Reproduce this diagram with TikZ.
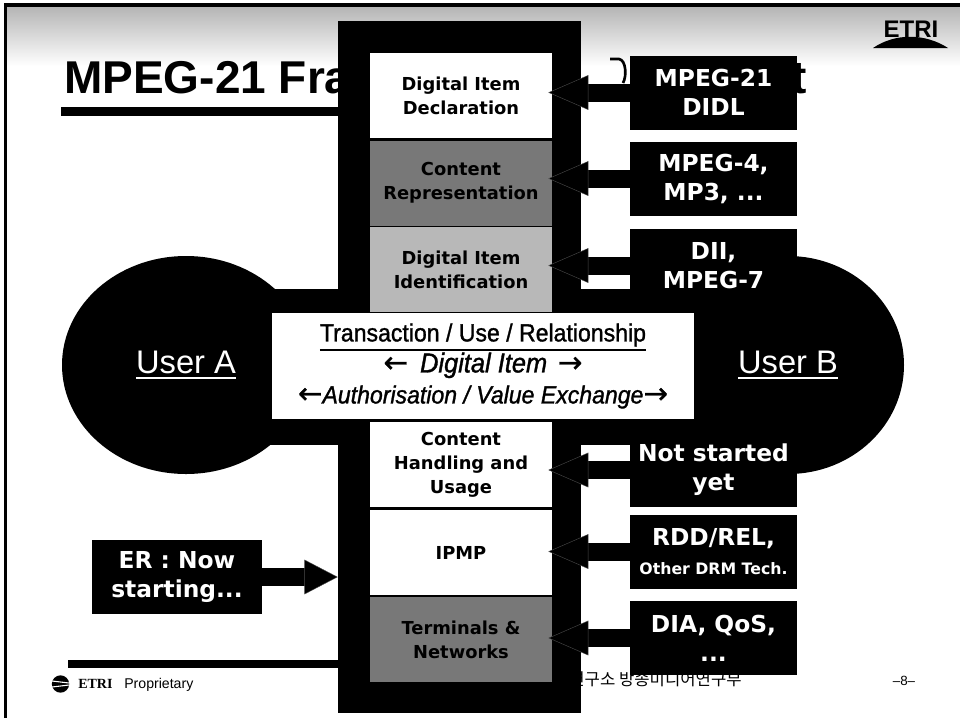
\documentclass[tikz,border=0pt]{standalone}
\usepackage{fontspec}
\usetikzlibrary{arrows.meta,positioning,calc,shapes.geometric}
\setmainfont{Liberation Sans}
\newfontfamily\verdanafont{DejaVu Sans}
\newfontfamily\narrowfont[FakeStretch=0.93,FakeBold=1.2]{Liberation Sans}
\newfontfamily\arrowfont[FakeBold=0.8]{DejaVu Sans}
\newfontfamily\etrifont{Liberation Serif}
\newfontfamily\koreanfont{Noto Sans CJK KR}
\definecolor{DarkCell}{gray}{0.47}
\definecolor{LightCell}{gray}{0.72}
\newcommand{\ruledtext}[1]{\leavevmode\vtop{\hbox{#1}\kern 2pt\hrule height 1.3pt}}
\newcommand{\bigleft}{{\arrowfont\fontsize{22}{23}\selectfont ←}}
\newcommand{\bigright}{{\arrowfont\fontsize{22}{23}\selectfont →}}

\begin{document}
\begin{tikzpicture}[
    x=0.75pt,y=-0.75pt,
    cellnode/.style={minimum width=136.5pt,minimum height=63.75pt,inner sep=0pt,align=center,
      font=\verdanafont\bfseries\fontsize{13.4}{18}\selectfont},
    tagnode/.style={fill=black,text=white,minimum width=125.25pt,minimum height=55.5pt,inner sep=0pt,align=center,
      font=\verdanafont\bfseries\fontsize{17.5}{21.75}\selectfont},
    usernode/.style={ellipse,fill=black,text=white,minimum height=163.5pt,inner sep=0pt,
      font=\fontsize{24.5}{28}\selectfont},
    fatarrow/.style={line width=13.5pt,-{Triangle[width=26pt,length=#1,color=black!70,fill=black,line width=.3pt]}},
    fatarrow/.default=30pt
  ]
  \useasboundingbox (0,0) rectangle (960,718);
  % Header band and frame
  \shade[top color=gray!58,bottom color=white,draw=none] (7,7) rectangle (960,66);
  \fill[black] (4,3) rectangle (960,7);
  \fill[black] (4,3) rectangle (7,718);
  % Logo
  \node[anchor=base,font=\bfseries\fontsize{18}{20}\selectfont] (logo) at (911,37) {ETRI};
  \fill[black] (873,48) .. controls (895,33) and (925,33) .. (948,48) -- cycle;
  % Title
  \node[anchor=base west,inner sep=0pt,font=\bfseries\fontsize{34.5}{38}\selectfont] (title) at (64,93) {MPEG-21 Fra};
  \node[anchor=base east,inner sep=0pt,font=\bfseries\fontsize{34.5}{38}\selectfont] (titleend) at (807,93) {t};
  \draw[line width=2pt] (610,59) -- (619,59) .. controls (626,60) and (627,76) .. (623,83);
  \fill[black] (61,107) rectangle (345,116);
  % Footer
  \fill[black] (68,660) rectangle (345,668);
  \node[circle,fill=black,minimum size=13pt,inner sep=0pt] (icon) at (60.5,684) {};
  \draw[white,line width=.8pt] (52,681) -- (69,683) (52,687) -- (69,685);
  \node[anchor=base west,inner sep=0pt,font=\etrifont\bfseries\fontsize{10.5}{12}\selectfont] (etri) at (78,688) {ETRI};
  \node[anchor=base west,inner sep=0pt,font=\fontsize{10.6}{12}\selectfont] (proprietary) at (124,688) {Proprietary};
  \node[anchor=base east,inner sep=0pt,font=\koreanfont\fontsize{12.5}{14}\selectfont] (institute) at (742,685) {연구소 방송미디어연구부};
  \node[anchor=base,inner sep=0pt,font=\fontsize{10}{12}\selectfont] (page) at (904,685) {–8–};
  % Users
  \node[fill=black,minimum width=451.5pt,minimum height=117pt,inner sep=0pt] (bar) at (487,367) {};
  \node[usernode,minimum width=186pt] (usera) at (186,365) {\ruledtext{User A}};
  \node[usernode,minimum width=174pt] (userb) at (788,365) {\ruledtext{User B}};
  % Layers
  \node[fill=black,minimum width=182.25pt,minimum height=519pt,inner sep=0pt] (stack) at (459.5,367) {};
  \node[cellnode,fill=white] (decl) at (461,95.5) {Digital Item\\Declaration};
  \node[cellnode,fill=DarkCell] (repr) at (461,183) {Content\\Representation};
  \node[cellnode,fill=LightCell] (ident) at (461,269.5) {Digital Item\\Identification};
  \node[cellnode,fill=white] (usage) at (461,464.5) {Content\\Handling and\\Usage};
  \node[cellnode,fill=white] (ipmp) at (461,552.5) {IPMP};
  \node[cellnode,fill=DarkCell] (term) at (461,639.5) {Terminals \&\\Networks};
  % Transaction box
  \node[fill=white,minimum width=316.5pt,minimum height=79.5pt,inner sep=0pt,align=center,
    font=\narrowfont\fontsize{18.6}{23.25}\selectfont] (trans) at (483,366)
    {\ruledtext{Transaction / Use / Relationship}\\
     {\itshape\fontsize{20.5}{23.25}\selectfont\bigleft\hspace{9pt}Digital Item\hspace{8pt}\bigright}\\
     {\itshape\bigleft Authorisation / Value Exchange\bigright}};
  % Technologies
  \node[tagnode] (didl) at (713.5,92.5) {MPEG-21\\DIDL};
  \node[tagnode] (mpeg) at (713.5,178.5) {MPEG-4,\\MP3, ...};
  \node[tagnode] (dii) at (713.5,265.5) {DII,\\MPEG-7};
  \node[tagnode] (nots) at (713.5,470) {Not started\\yet};
  \node[tagnode] (rdd) at (713.5,551.5) {RDD/REL,\\{\fontsize{11.8}{14}\selectfont Other DRM Tech.}};
  \node[tagnode] (dia) at (713.5,638) {DIA, QoS,\\...};
  \node[tagnode,minimum width=127.5pt] (er) at (177,577) {ER : Now\\starting...};
  % Arrows
  \draw[fatarrow] (didl.west) -- ($(didl.west -| decl.east)+(-4,0)$);
  \draw[fatarrow] (mpeg.west) -- ($(mpeg.west -| repr.east)+(-4,0)$);
  \draw[fatarrow] (dii.west) -- ($(dii.west -| ident.east)+(-4,0)$);
  \draw[fatarrow] (nots.west) -- ($(nots.west -| usage.east)+(-4,0)$);
  \draw[fatarrow] (rdd.west) -- ($(rdd.west -| ipmp.east)+(-4,0)$);
  \draw[fatarrow] (dia.west) -- ($(dia.west -| term.east)+(-4,0)$);
  \draw[fatarrow=25pt] (er.east) -- (er.east -| stack.west);
\end{tikzpicture}
\end{document}
